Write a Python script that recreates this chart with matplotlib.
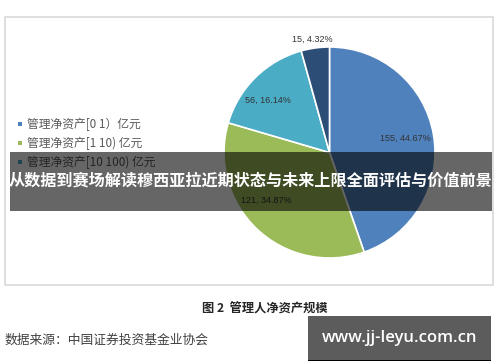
import matplotlib
matplotlib.use('Agg')
import matplotlib.pyplot as plt
from matplotlib.patches import Rectangle
import numpy as np

plt.rcParams['font.family'] = ['Noto Sans CJK SC', 'DejaVu Sans']

# Data
categories = ['管理净资产[0 1）亿元', '管理净资产[1 10) 亿元', '管理净资产[10 100) 亿元', '管理净资产100亿元以上']
counts = [155, 121, 56, 15]
shares = [44.67, 34.87, 16.14, 4.32]
colors = ['#4F81BD', '#9BBB59', '#4BACC6', '#2C4D75']

W, H = 500, 362
fig = plt.figure(figsize=(5, 3.62), dpi=100)
ax = fig.add_axes([0, 0, 1, 1])

# chart frame
ax.add_patch(Rectangle((5, H - 285), 488, 268, fill=False, ec='#d9d9d9', lw=1.2, zorder=0))

# pie
cx, cy, r = 329.5, H - 152.5, 105.5
wedges, _ = ax.pie(counts, colors=colors, startangle=90, counterclock=False,
                   center=(cx, cy), radius=r,
                   wedgeprops=dict(edgecolor='white', linewidth=1.2))

# data labels
label_r = [0.73, 0.75, 0.77, 1.09]
angle_shift = [1, -9, 5, 1]
for w, n, s, lr, da in zip(wedges, counts, shares, label_r, angle_shift):
    ang = np.deg2rad((w.theta1 + w.theta2) / 2 + da)
    ax.text(cx + lr * r * np.cos(ang), cy + lr * r * np.sin(ang), f'{n}, {s:.2f}%',
            ha='center', va='center', fontsize=6.5, color='#333333',
            family=['Liberation Sans', 'DejaVu Sans'], zorder=3)

# legend (first three entries visible)
for i, (lab, c) in enumerate(zip(categories[:3], colors[:3])):
    y = H - (124 + 19 * i)
    ax.add_patch(Rectangle((17.5, y - 2), 4, 4, color=c, lw=0, zorder=3))
    ax.text(27, y, lab, ha='left', va='center', fontsize=8.5, color='#595959', zorder=3)

ax.set_xlim(0, W)
ax.set_ylim(0, H)
ax.axis('off')

# caption and source
ax.text(202, H - 309, '图 2  管理人净资产规模', ha='left', va='center', fontsize=8.8,
        fontweight='bold', color='#262626')
ax.text(5, H - 340, '数据来源：中国证券投资基金业协会', ha='left', va='center', fontsize=9.2,
        color='#404040')

# overlay banner
ax.add_patch(Rectangle((10, H - 210.5), 482, 58.5, color='black', alpha=0.6, lw=0, zorder=5))
ax.text(251, H - 181, '从数据到赛场解读穆西亚拉近期状态与未来上限全面评估与价值前景',
        ha='center', va='center', fontsize=11.6, fontweight='bold', color='white', zorder=6)

# watermark box
ax.add_patch(Rectangle((308, H - 361), 183, 45, color='#5c5c5c', lw=0, zorder=5))
ax.add_patch(Rectangle((308, H - 361), 183, 1.5, color='black', lw=0, zorder=6))
ax.text(399.5, H - 338, 'www.jj-leyu.com.cn', ha='center', va='center', fontsize=12,
        fontweight='semibold', color='white', family=['Open Sans', 'DejaVu Sans'], zorder=6)

plt.savefig('out.png', dpi=100)
